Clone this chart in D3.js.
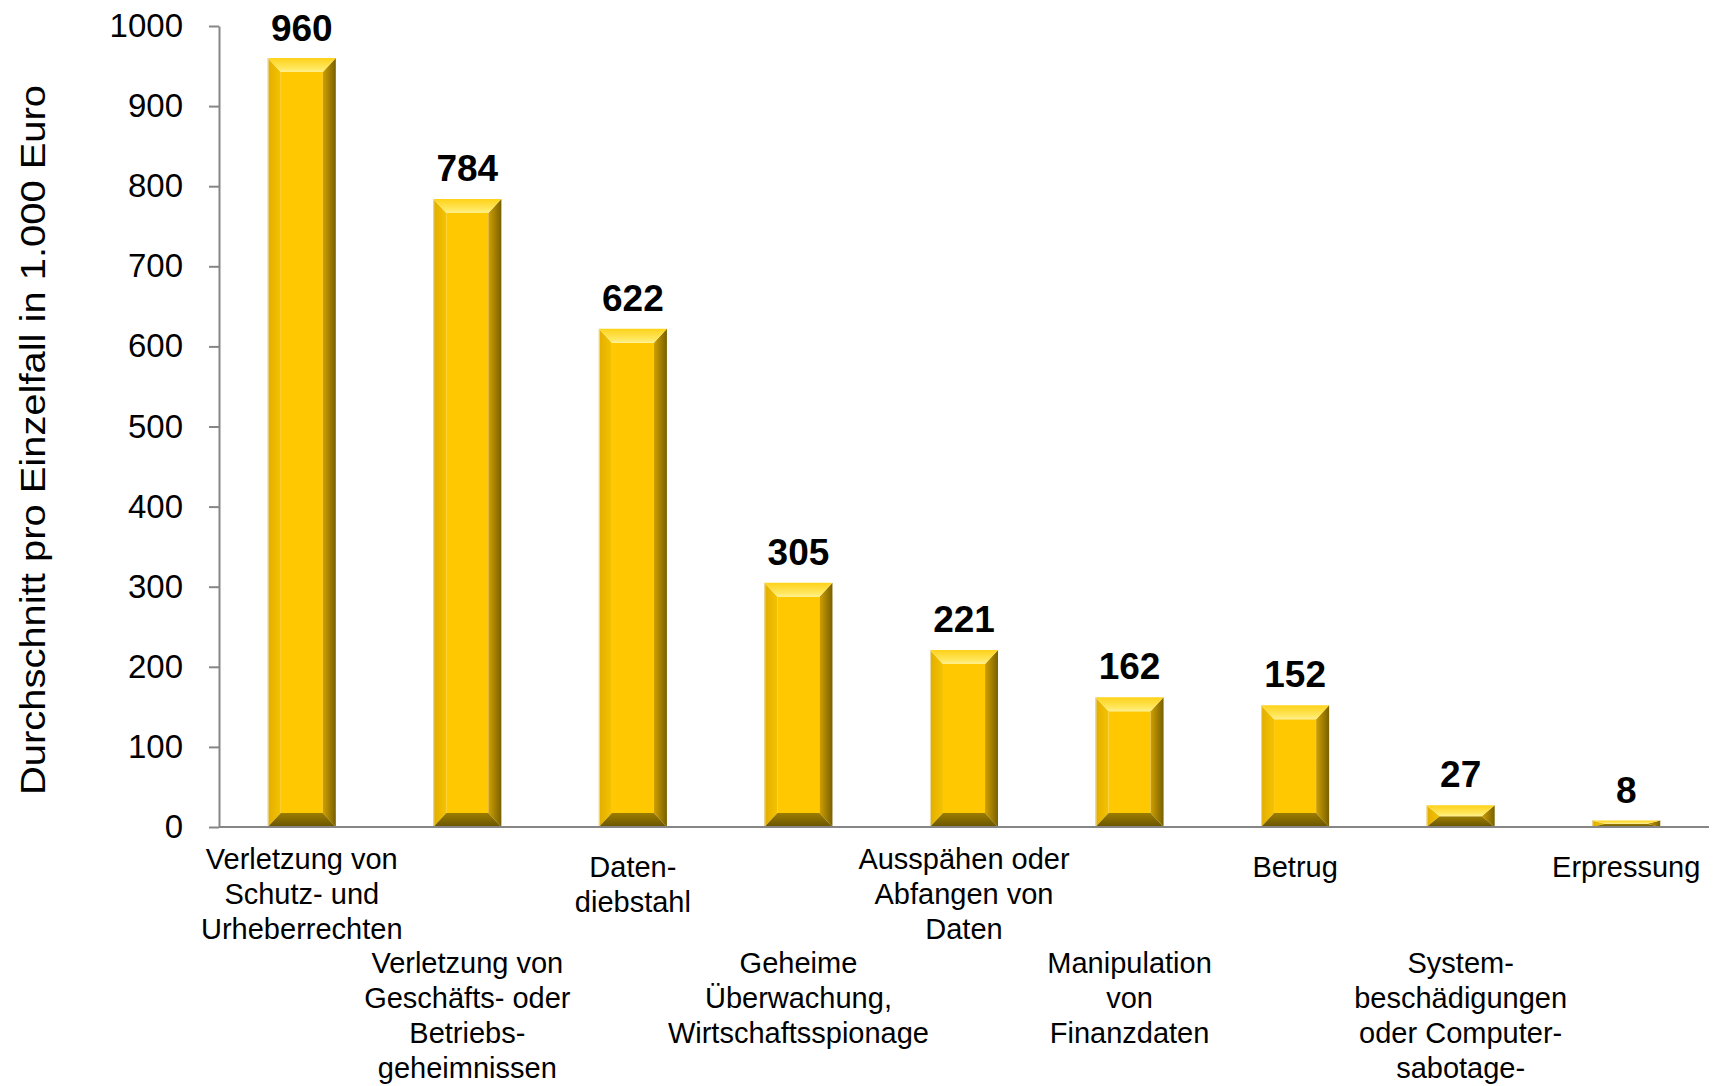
<!DOCTYPE html>
<html>
<head>
<meta charset="utf-8">
<script src="https://cdn.jsdelivr.net/npm/d3@7"></script>
<style>
  body { margin: 0; background: #fff; }
  text { font-family: "Liberation Sans", Arial, sans-serif; fill: #000; }
</style>
</head>
<body>
<div id="chart"></div>
<script>
// category labels, already broken into lines as in the original
const categories = [
    ["Verletzung von", "Schutz- und", "Urheberrechten"],
    ["Verletzung von", "Geschäfts- oder", "Betriebs-", "geheimnissen"],
    ["Daten-", "diebstahl"],
    ["Geheime", "Überwachung,", "Wirtschaftsspionage"],
    ["Ausspähen oder", "Abfangen von", "Daten"],
    ["Manipulation", "von", "Finanzdaten"],
    ["Betrug"],
    ["System-", "beschädigungen", "oder Computer-", "sabotage-"],
    ["Erpressung"]
];
const values = [960, 784, 622, 305, 221, 162, 152, 27, 8];
const yTicks = [0, 100, 200, 300, 400, 500, 600, 700, 800, 900, 1000];
const yTitle = "Durchschnitt pro Einzelfall in 1.000 Euro";

const W = 1713, H = 1086;
let margin = { left: 219, right: 1709, top: 26, bottom: 827 };

const svg = d3.select('#chart').append('svg')
    .attr('width', W)
    .attr('height', H);

const keys = categories.map((c, i) => i);

let xscale = d3.scaleBand()
    .domain(keys)
    .range([margin.left, margin.right])
    .paddingInner(0.589)
    .paddingOuter(0.2945);
let yscale = d3.scaleLinear().domain([0, 1000]).range([margin.bottom, margin.top]);

// gradients for the bevelled bars
const defs = svg.append('defs');
function grad(id, x2, y2, stops) {
    let g = defs.append('linearGradient').attr('id', id)
        .attr('x1', 0).attr('y1', 0).attr('x2', x2).attr('y2', y2);
    stops.forEach(s => g.append('stop').attr('offset', s[0]).attr('stop-color', s[1]));
}
grad('gTop', 0, 1, [[0, '#FFD21A'], [0.7, '#FFE65A'], [1, '#FFF08C']]);
grad('gLeft', 1, 0, [[0, '#E2AE00'], [1, '#F5C200']]);
grad('gRight', 1, 0, [[0, '#D0A000'], [1, '#786000']]);
grad('gBottom', 0, 1, [[0, '#9C7D00'], [1, '#6A5400']]);

// y axis
let yaxis = d3.axisLeft(yscale)
    .tickValues(yTicks)
    .tickFormat(d3.format('d'))
    .tickSize(10)
    .tickPadding(26)
    .tickSizeOuter(0);
let g_yaxis = svg.append('g')
    .attr('transform', `translate(${margin.left},0)`)
    .call(yaxis);
g_yaxis.select('.domain').attr('stroke', '#868686').attr('stroke-width', 2);
g_yaxis.selectAll('.tick line').attr('stroke', '#868686').attr('stroke-width', 2);
g_yaxis.selectAll('.tick text')
    .style('font-family', '"Liberation Sans", Arial, sans-serif')
    .style('font-size', '33px')
    .attr('fill', '#000');

svg.append('text')
    .attr('transform', `translate(45,440) rotate(-90)`)
    .attr('text-anchor', 'middle')
    .attr('textLength', 710)
    .attr('lengthAdjust', 'spacingAndGlyphs')
    .style('font-size', '35px')
    .text(yTitle);

// bars
const bars = svg.selectAll('.bar')
    .data(values)
    .join('g')
    .attr('class', 'bar');

bars.each(function(v, i) {
    const g = d3.select(this);
    const x0 = xscale(i), x1 = x0 + xscale.bandwidth();
    const y0 = yscale(v), y1 = yscale(0);
    const h = y1 - y0;
    const bv = Math.min(14, h / 2), bh = 13;
    const pts = a => a.map(p => p.join(',')).join(' ');
    g.append('rect').attr('x', x0 + bh).attr('y', y0 + bv)
        .attr('width', x1 - x0 - 2 * bh).attr('height', Math.max(0, h - 2 * bv))
        .attr('fill', '#FFC800');
    g.append('polygon').attr('points', pts([[x0, y0], [x0 + bh, y0 + bv], [x0 + bh, y1 - bv], [x0, y1]]))
        .attr('fill', 'url(#gLeft)');
    g.append('polygon').attr('points', pts([[x1, y0], [x1, y1], [x1 - bh, y1 - bv], [x1 - bh, y0 + bv]]))
        .attr('fill', 'url(#gRight)');
    g.append('polygon').attr('points', pts([[x0, y1], [x0 + bh, y1 - bv], [x1 - bh, y1 - bv], [x1, y1]]))
        .attr('fill', 'url(#gBottom)');
    g.append('polygon').attr('points', pts([[x0, y0], [x1, y0], [x1 - bh, y0 + bv], [x0 + bh, y0 + bv]]))
        .attr('fill', 'url(#gTop)');
    g.append('line').attr('x1', x0 + 0.5).attr('x2', x0 + 0.5).attr('y1', y0).attr('y2', y1)
        .attr('stroke', '#E9D9A2').attr('stroke-width', 1);
});

// value labels
svg.selectAll('.val')
    .data(values)
    .join('text')
    .attr('class', 'val')
    .attr('x', (d, i) => xscale(i) + xscale.bandwidth() / 2)
    .attr('y', d => Math.max(yscale(d) - 18, 41))
    .attr('text-anchor', 'middle')
    .style('font-size', '37px')
    .style('font-weight', 'bold')
    .text(d => d);

// x axis line
svg.append('line')
    .attr('x1', margin.left).attr('x2', margin.right)
    .attr('y1', margin.bottom).attr('y2', margin.bottom)
    .attr('stroke', '#868686').attr('stroke-width', 2);

// category labels, staggered in two rows
const lineH = 35;
svg.selectAll('.cat')
    .data(categories)
    .join('text')
    .attr('class', 'cat')
    .attr('text-anchor', 'middle')
    .style('font-size', '29px')
    .each(function(lines, i) {
        const cx = xscale(i) + xscale.bandwidth() / 2;
        let y0 = i % 2 === 0 ? (lines.length >= 3 ? 869 : 877) : 973;
        d3.select(this).selectAll('tspan')
            .data(lines)
            .join('tspan')
            .attr('x', cx)
            .attr('y', (d, k) => y0 + k * lineH)
            .text(d => d);
    });
</script>
</body>
</html>
